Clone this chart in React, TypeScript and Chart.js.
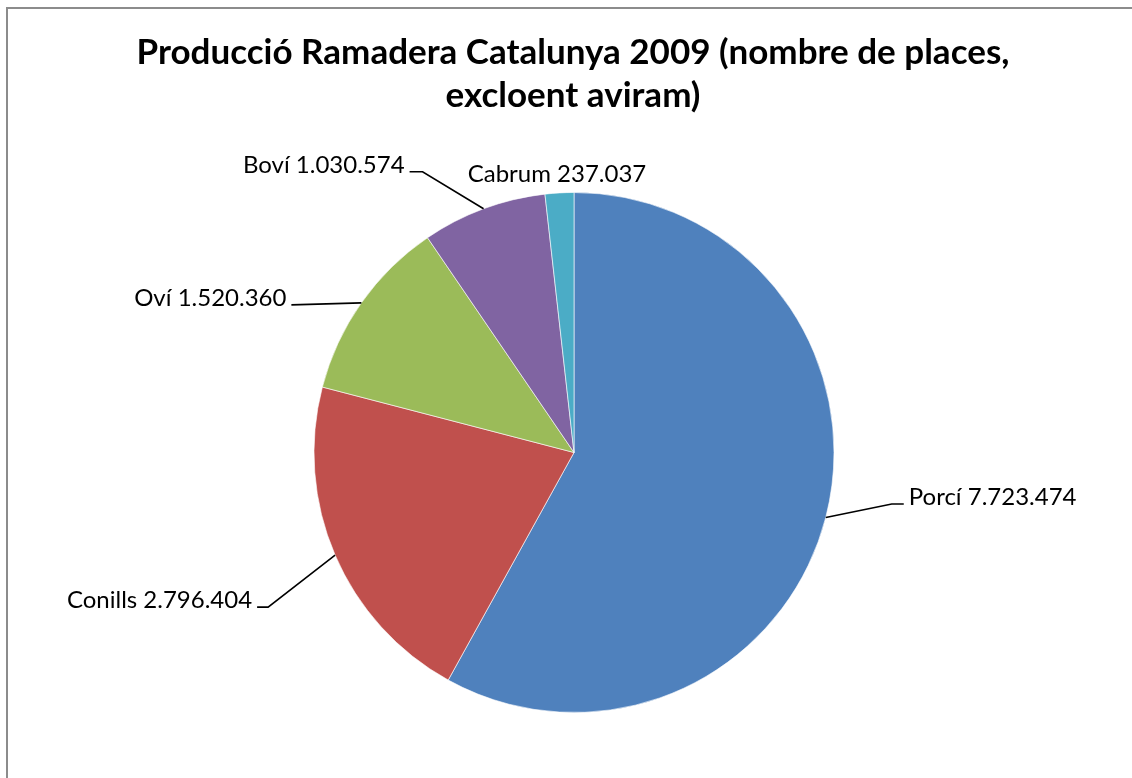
import React, { useEffect, useRef } from "react";
import { Chart, registerables } from "chart.js";

Chart.register(...registerables);

const categories = ["Porcí", "Conills", "Oví", "Boví", "Cabrum"];
const values = [7723474, 2796404, 1520360, 1030574, 237037];
const valueLabels = ["7.723.474", "2.796.404", "1.520.360", "1.030.574", "237.037"];
const colors = ["#4F81BD", "#C0504D", "#9BBB59", "#8064A2", "#4BACC6"];
const titleLines = ["Producció Ramadera Catalunya 2009 (nombre de places,", "excloent aviram)"];

// label layout: elbow offset from slice anchor, horizontal stub, text gap; line=false means no leader
const labelLayout = [
  { dx: 66, dy: -13.5, stub: 12, line: true },
  { dx: -67, dy: 52, stub: -11, line: true },
  { dx: -70, dy: 2, stub: 0, line: true },
  { dx: -61, dy: -37, stub: -13, line: true },
  { dx: -2.5, dy: -11, stub: 0, line: false },
];

const FONT = "Lato, 'Open Sans', sans-serif";

const labelsPlugin = {
  id: "pieLabels",
  afterDatasetsDraw(chart: any) {
    const ctx = chart.ctx;
    const meta = chart.getDatasetMeta(0);
    ctx.save();
    // title
    ctx.fillStyle = "#000";
    ctx.textAlign = "center";
    ctx.textBaseline = "alphabetic";
    ctx.font = `bold 35px ${FONT}`;
    ctx.fillText(titleLines[0], 573, 64);
    ctx.fillText(titleLines[1], 573, 107);

    ctx.font = `24px ${FONT}`;
    meta.data.forEach((arc: any, i: number) => {
      const p = arc.getProps(["x", "y", "startAngle", "endAngle", "outerRadius"], true);
      const mid = (p.startAngle + p.endAngle) / 2;
      const ax = p.x + Math.cos(mid) * p.outerRadius;
      const ay = p.y + Math.sin(mid) * p.outerRadius;
      const L = labelLayout[i];
      const ex = ax + L.dx;
      const ey = ay + L.dy;
      const text = `${categories[i]} ${valueLabels[i]}`;
      if (L.line) {
        const sx = ex + L.stub;
        ctx.strokeStyle = "#000";
        ctx.lineWidth = 1.6;
        ctx.beginPath();
        ctx.moveTo(ax, ay);
        ctx.lineTo(ex, ey);
        ctx.lineTo(sx, ey);
        ctx.stroke();
        const right = L.dx < 0;
        ctx.textAlign = right ? "right" : "left";
        ctx.fillText(text, right ? sx - 5 : sx + 5, ey + 1);
      } else {
        ctx.textAlign = "center";
        ctx.fillText(text, ex, ey);
      }
    });
    ctx.restore();
  },
};

export default function App() {
  const ref = useRef<HTMLCanvasElement>(null);
  useEffect(() => {
    if (!ref.current) return;
    const chart = new Chart(ref.current, {
      type: "pie",
      data: {
        labels: categories,
        datasets: [
          {
            data: values,
            backgroundColor: colors,
            borderColor: "rgba(255,255,255,0.6)",
            borderWidth: 1,
          },
        ],
      },
      options: {
        responsive: false,
        animation: false,
        layout: { padding: { top: 192, bottom: 65, left: 300, right: 284 } },
        plugins: {
          legend: { display: false },
          title: { display: false },
          tooltip: { enabled: false },
        },
      },
      plugins: [labelsPlugin],
    });
    return () => chart.destroy();
  }, []);
  return (
    <div style={{ position: "fixed", left: 0, top: 0, width: 1132, height: 778, background: "#fff", overflow: "hidden" }}>
      <div
        style={{
          position: "absolute",
          left: 6,
          top: 7,
          width: 1200,
          height: 900,
          borderLeft: "2px solid #8c8c8c",
          borderTop: "2px solid #8c8c8c",
        }}
      />
      <canvas ref={ref} width={1132} height={778} style={{ position: "absolute", left: 0, top: 0 }} />
    </div>
  );
}
